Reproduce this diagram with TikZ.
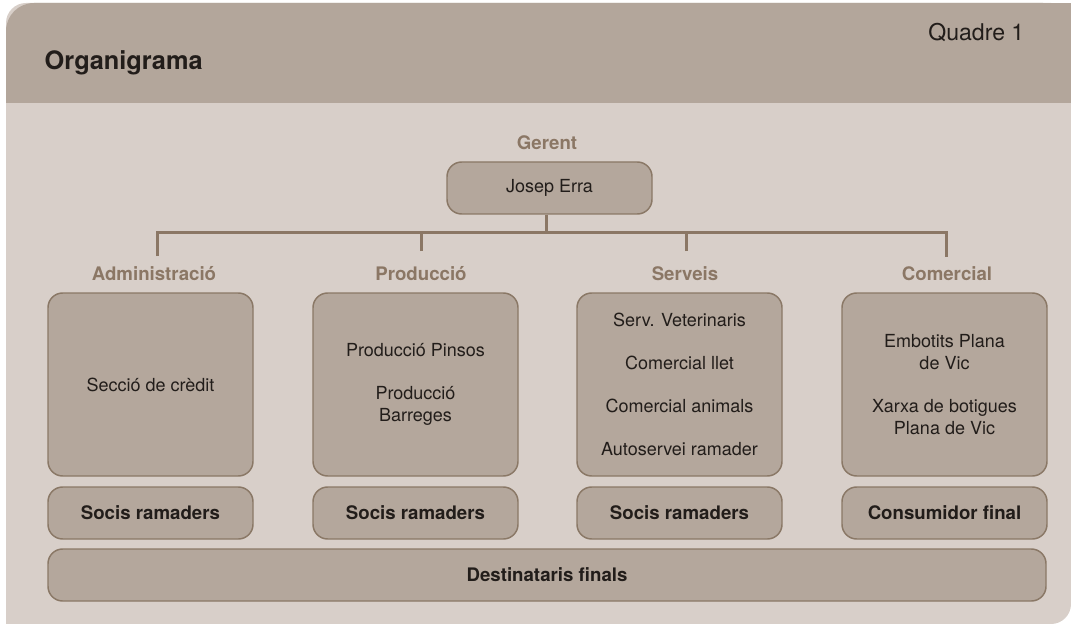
\documentclass[tikz,border=0pt]{standalone}
\usepackage{fontspec}
\setmainfont{TeX Gyre Heros}
\usepackage{tikz}
\definecolor{headfill}{HTML}{B3A69B}
\definecolor{bodyfill}{HTML}{D8CFC9}
\definecolor{boxfill}{HTML}{B4A79C}
\definecolor{boxline}{HTML}{8A7866}
\definecolor{labelbrown}{HTML}{8B7765}
\definecolor{ink}{HTML}{221D1A}

\begin{document}
\begin{tikzpicture}[x=0.75pt, y=-0.75pt,
  unitbox/.style={draw=boxline, fill=boxfill, line width=1.1pt, rounded corners=11pt,
    text=ink, align=center, inner sep=0pt, font=\fontsize{13.5}{16.5}\selectfont},
  topbox/.style={unitbox, minimum width=153.75pt, minimum height=137.25pt},
  endbox/.style={unitbox, minimum width=153.75pt, minimum height=39pt,
    font=\fontsize{14}{16.5}\selectfont\bfseries},
  unitlabel/.style={text=labelbrown, font=\fontsize{14}{16}\selectfont\bfseries},
  orgline/.style={draw=labelbrown, line width=2.25pt}]
\useasboundingbox (0,0) rectangle (1071,624);

% fons del quadre
\fill[bodyfill, rounded corners=15pt] (6,3) rectangle (1071,624);
\fill[bodyfill] (6,560) rectangle (60,624);
% capçalera
\fill[headfill, rounded corners=21pt] (6,3) rectangle (1071,103);
\fill[headfill] (1000,3) rectangle (1071,103);
\fill[headfill] (6,60) rectangle (1071,103);
\node[anchor=west, text=ink, font=\fontsize{19}{22}\selectfont\bfseries] (title) at (40,63) {Organigrama};
\node[anchor=east, text=ink, font=\fontsize{17.3}{20}\selectfont] (quadre) at (1029,33) {Quadre 1};

% gerent
\node[unitlabel] (lger) at (547,143) {Gerent};
\node[unitbox, minimum width=153.75pt, minimum height=39pt] (boss) at (549.5,188) {Josep Erra};

% departaments
\node[unitlabel] (ladm) at (154,274) {Administració};
\node[unitlabel] (lpro) at (421,274) {Producció};
\node[unitlabel] (lser) at (685,274) {Serveis};
\node[unitlabel] (lcom) at (947,274) {Comercial};

\node[topbox] (adm) at (150.5,384.5) {Secció de crèdit};
\node[topbox] (pro) at (415.5,384.5) {Producció Pinsos\\[15.75pt]Producció\\Barreges};
\node[topbox] (ser) at (679.5,384.5) {Serv. Veterinaris\\[15.75pt]Comercial llet\\[15.75pt]Comercial animals\\[15.75pt]Autoservei ramader};
\node[topbox] (com) at (944.5,384.5) {Embotits Plana\\de Vic\\[15.75pt]Xarxa de botigues\\Plana de Vic};

% destinataris
\node[endbox] (sadm) at (150.5,513) {Socis ramaders};
\node[endbox] (spro) at (415.5,513) {Socis ramaders};
\node[endbox] (sser) at (679.5,513) {Socis ramaders};
\node[endbox] (scom) at (944.5,513) {Consumidor final};
\node[endbox, minimum width=748.5pt] (dest) at (547,575) {Destinataris finals};

% línies de l'organigrama
\coordinate (bus) at (546,232);
\coordinate (dadm) at (157,256);
\coordinate (dpro) at (421,251);
\coordinate (dser) at (686,251);
\coordinate (dcom) at (946,257);
\draw[orgline] (bus |- boss.south) -- (bus);
\draw[orgline] (dadm) |- (bus) -| (dcom);
\foreach \d in {dpro,dser} {
    \draw[orgline] (\d) -- (\d |- bus);
}

\end{tikzpicture}
\end{document}
